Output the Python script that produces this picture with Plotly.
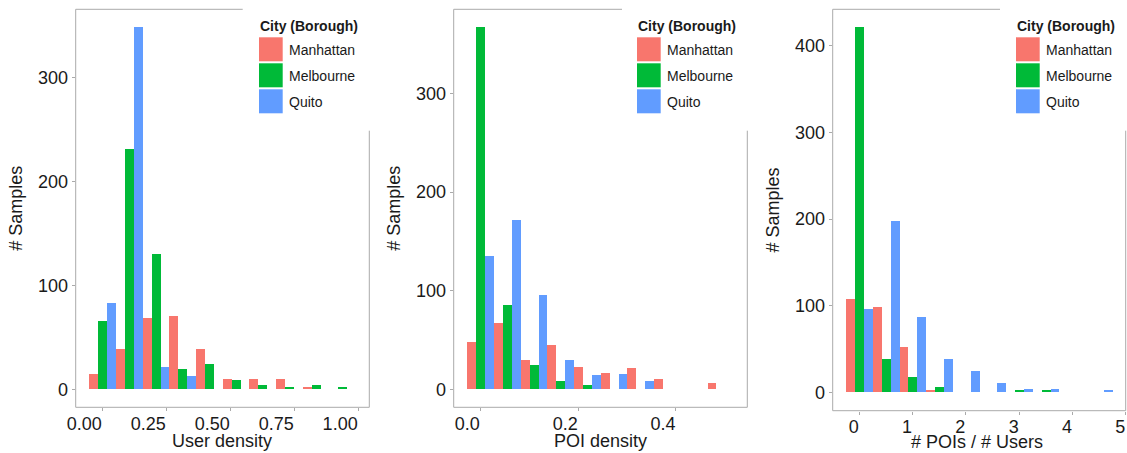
import plotly.graph_objects as go

# ---------------- data ----------------
cities = ["Manhattan", "Melbourne", "Quito"]
colors = ["#F8766D", "#00BA38", "#619CFF"]

# Panel 1: user density (bin centres)
user_density_bins = [0.0000, 0.1043, 0.2087, 0.3130, 0.4174, 0.5217, 0.6261, 0.7304, 0.8348, 0.9391]
user_density_manhattan = [14, 38, 68, 70, 38, 10, 10, 10, 2, 0]
user_density_melbourne = [65, 231, 130, 19, 24, 9, 4, 2, 4, 2]
user_density_quito = [83, 348, 21, 12, 0, 0, 0, 0, 0, 0]

# Panel 2: POI density (bin centres)
poi_density_bins = [0.0000, 0.0546, 0.1092, 0.1638, 0.2184, 0.2730, 0.3276, 0.3822, 0.4368, 0.4914]
poi_density_manhattan = [48, 67, 29, 45, 22, 16, 21, 10, 0, 6]
poi_density_melbourne = [367, 85, 24, 8, 4, 0, 0, 0, 0, 0]
poi_density_quito = [135, 171, 95, 29, 14, 15, 8, 0, 0, 0]

# Panel 3: #POIs / #Users (bin centres)
ratio_bins = [0.0, 0.5, 1.0, 1.5, 2.0, 2.5, 3.0, 3.5, 4.0, 4.5]
ratio_manhattan = [108, 98, 52, 3, 0, 0, 0, 0, 0, 0]
ratio_melbourne = [421, 38, 18, 6, 0, 0, 3, 3, 0, 0]
ratio_quito = [96, 198, 87, 38, 24, 10, 4, 4, 0, 3]

x_titles = ["User density", "POI density", "# POIs / # Users"]
y_title = "# Samples"
legend_title = "City (Borough)"

x_tickvals = [[0, 0.25, 0.5, 0.75, 1.0], [0, 0.2, 0.4], [0, 1, 2, 3, 4, 5]]
x_ticktext = [["0.00", "0.25", "0.50", "0.75", "1.00"], ["0.0", "0.2", "0.4"], ["0", "1", "2", "3", "4", "5"]]
y_tickvals = [[0, 100, 200, 300], [0, 100, 200, 300], [0, 100, 200, 300, 400]]

panel_data = [
    (user_density_bins, [user_density_manhattan, user_density_melbourne, user_density_quito]),
    (poi_density_bins, [poi_density_manhattan, poi_density_melbourne, poi_density_quito]),
    (ratio_bins, [ratio_manhattan, ratio_melbourne, ratio_quito]),
]

# ---------------- layout geometry (page pixels) ----------------
W, H = 1127, 453

panels = [
    dict(L=75.7, R=369.3, T=9.3, B=407.3, gx=242.7, gy=130.7,
         xr=[-0.1043, 1.0435], yr=[-17.4, 365.4], leg=258.0, tx=222.3, ty=440.7),
    dict(L=453.7, R=747.3, T=9.3, B=407.3, gx=622.0, gy=130.7,
         xr=[-0.0546, 0.546], yr=[-18.35, 385.35], leg=636.0, tx=600.3, ty=440.7),
    dict(L=832.7, R=1125.7, T=9.3, B=410.7, gx=1000.0, gy=130.7,
         xr=[-0.5, 5.0], yr=[-21.05, 442.05], leg=1015.0, tx=977.0, ty=441.7),
]

def px(x):
    return x / W

def py(y):
    return 1 - y / H

FONT = "Liberation Sans, Arial, sans-serif"
TXT = "#1a1a1a"
GRID = "#aaaaaa"

fig = go.Figure()

for i, (bins, series) in enumerate(panel_data):
    sfx = "" if i == 0 else str(i + 1)
    for city, col, vals in zip(cities, colors, series):
        fig.add_trace(go.Bar(
            x=bins, y=vals, name=city, marker=dict(color=col, line=dict(width=0)),
            xaxis="x" + sfx, yaxis="y" + sfx, showlegend=False,
        ))

layout = dict(
    width=W, height=H, margin=dict(l=0, r=0, t=0, b=0, autoexpand=False),
    paper_bgcolor="white", plot_bgcolor="white",
    barmode="group", bargap=0, bargroupgap=0,
    font=dict(family=FONT, color=TXT, size=18),
    showlegend=False,
)

shapes = []
annotations = []
for i, p in enumerate(panels):
    sfx = "" if i == 0 else str(i + 1)
    layout["xaxis" + sfx] = dict(
        domain=[px(p["L"]), px(p["R"])], range=p["xr"], anchor="y" + sfx,
        showgrid=False, zeroline=False, showline=False, automargin=False,
        ticks="outside", ticklen=3, tickcolor=GRID, tickwidth=1,
        tickvals=x_tickvals[i], ticktext=x_ticktext[i],
        ticklabelposition="outside left",
        tickfont=dict(size=18, color=TXT, family=FONT),
    )
    layout["yaxis" + sfx] = dict(
        domain=[py(p["B"]), py(p["T"])], range=p["yr"], anchor="x" + sfx,
        showgrid=False, zeroline=False, showline=False, automargin=False,
        ticks="outside", ticklen=3, tickcolor=GRID, tickwidth=1,
        tickvals=y_tickvals[i],
        tickfont=dict(size=18, color=TXT, family=FONT),
        title=dict(text=y_title, font=dict(size=18, color=TXT, family=FONT), standoff=10),
    )
    # x-axis title
    annotations.append(dict(
        text=x_titles[i], xref="paper", yref="paper", x=px(p["tx"]), y=py(p["ty"]),
        xanchor="center", yanchor="middle", showarrow=False,
        font=dict(size=18, color=TXT, family=FONT),
    ))
    # panel border (broken where the legend box covers it)
    line = dict(color=GRID, width=1)
    shapes += [
        dict(type="line", xref="paper", yref="paper", x0=px(p["L"]), x1=px(p["L"]),
             y0=py(p["B"]), y1=py(p["T"]), line=line),
        dict(type="line", xref="paper", yref="paper", x0=px(p["L"]), x1=px(p["R"]),
             y0=py(p["B"]), y1=py(p["B"]), line=line),
        dict(type="line", xref="paper", yref="paper", x0=px(p["L"]), x1=px(p["gx"]),
             y0=py(p["T"]), y1=py(p["T"]), line=line),
        dict(type="line", xref="paper", yref="paper", x0=px(p["R"]), x1=px(p["R"]),
             y0=py(p["B"]), y1=py(p["gy"]), line=line),
    ]
    # legend
    lx = p["leg"]
    annotations.append(dict(
        text="<b>" + legend_title + "</b>", xref="paper", yref="paper",
        x=px(lx), y=py(26), xanchor="left", yanchor="middle", showarrow=False,
        font=dict(size=14, color=TXT, family=FONT),
    ))
    for j, (city, col) in enumerate(zip(cities, colors)):
        top = 37.3 + 26 * j
        shapes.append(dict(
            type="rect", xref="paper", yref="paper",
            x0=px(lx + 1), x1=px(lx + 24.7), y0=py(top + 24), y1=py(top),
            fillcolor=col, line=dict(width=0),
        ))
        annotations.append(dict(
            text=city, xref="paper", yref="paper",
            x=px(lx + 29), y=py(top + 13), xanchor="left", yanchor="middle", showarrow=False,
            font=dict(size=14, color=TXT, family=FONT),
        ))

layout["shapes"] = shapes
layout["annotations"] = annotations
fig.update_layout(**layout)

fig.write_html(
    "out.html",
    config={"displayModeBar": False},
    post_script="document.body.style.margin='0';document.body.style.overflow='hidden';",
)
